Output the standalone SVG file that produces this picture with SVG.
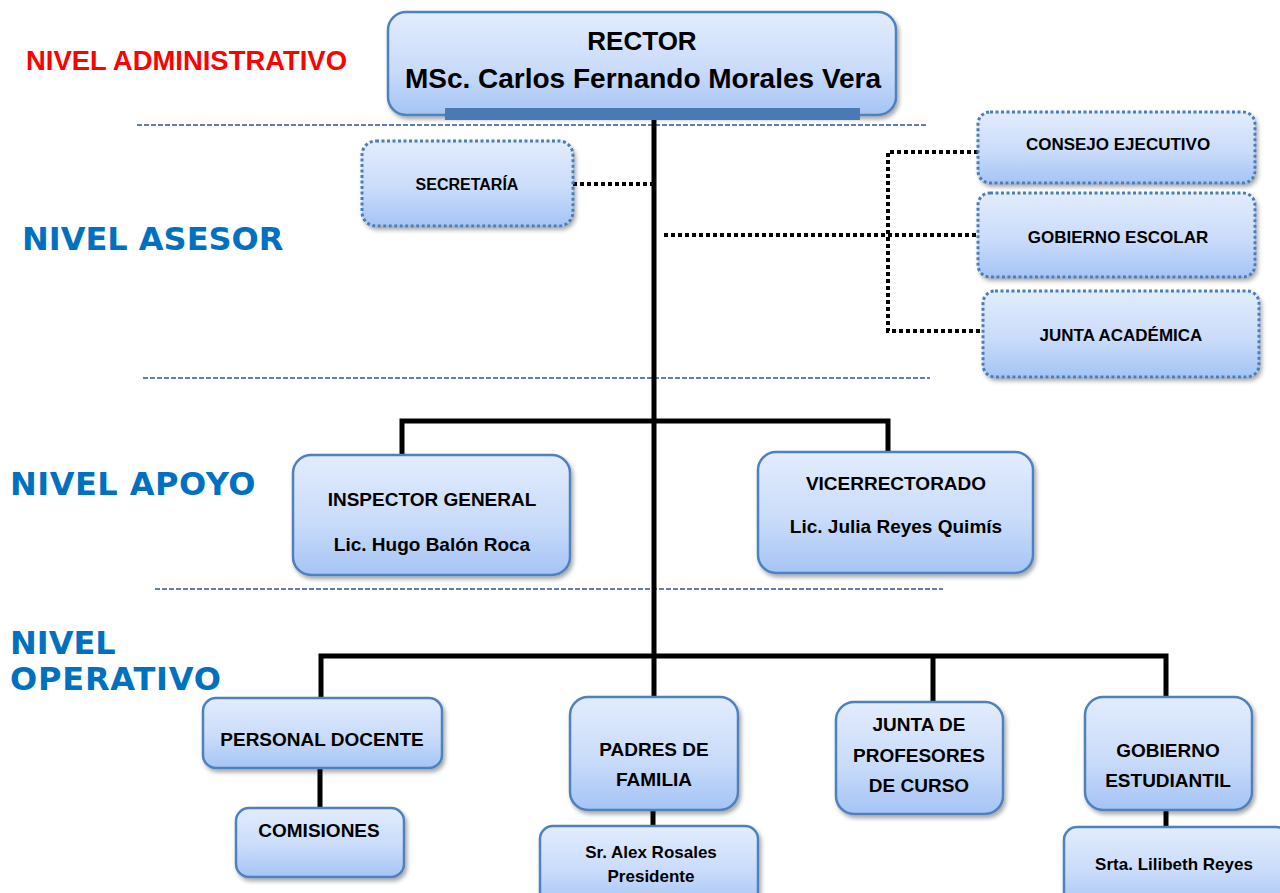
<svg xmlns="http://www.w3.org/2000/svg" width="1280" height="893" viewBox="0 0 1280 893">
<defs>
<linearGradient id="g" x1="0" y1="0" x2="0" y2="1">
<stop offset="0" stop-color="#e2ecfd"/>
<stop offset="0.55" stop-color="#cadcfa"/>
<stop offset="1" stop-color="#a5c4f5"/>
</linearGradient>
<filter id="sh" x="-10%" y="-10%" width="125%" height="135%">
<feDropShadow dx="2" dy="3" stdDeviation="2" flood-color="#000" flood-opacity="0.35"/>
</filter>
<style>
.box{fill:url(#g);stroke:#4f81bd;stroke-width:2.5;filter:url(#sh)}
.dbox{fill:url(#g);stroke:#4a7ebb;stroke-width:3;stroke-dasharray:3 2.5;filter:url(#sh)}
.t{font-family:"Liberation Sans",Arial,sans-serif;font-weight:bold;fill:#000;text-anchor:middle}
.lvl{font-family:"DejaVu Sans",Verdana,sans-serif;font-weight:bold;fill:#0070c0;font-size:32px}
.sep{stroke:#2f5597;stroke-width:1.5;stroke-dasharray:5 2;fill:none}
.solid{stroke:#000;stroke-width:5;fill:none}
.dot{stroke:#000;stroke-width:4;stroke-dasharray:4 3;fill:none}
</style>
</defs>
<rect width="1280" height="893" fill="#fff"/>

<g id="levels">
<text x="26" y="70" font-family="Liberation Sans,Arial,sans-serif" font-weight="bold" font-size="27" fill="#ff0000" textLength="321" lengthAdjust="spacingAndGlyphs">NIVEL ADMINISTRATIVO</text>
<text class="lvl" x="22" y="250">NIVEL ASESOR</text>
<text class="lvl" x="10" y="495" letter-spacing="0.5">NIVEL APOYO</text>
<text class="lvl" x="10" y="654">NIVEL</text>
<text class="lvl" x="10" y="690" letter-spacing="0.8">OPERATIVO</text>
</g>

<g id="separators">
<line class="sep" x1="137" y1="125" x2="927" y2="125"/>
<line class="sep" x1="143" y1="378" x2="930" y2="378"/>
<line class="sep" x1="155" y1="589" x2="943" y2="589"/>
</g>

<g id="connectors">
<line class="solid" x1="654" y1="118" x2="654" y2="698"/>
<polyline class="solid" points="402,455 402,421 888,421 888,452"/>
<polyline class="solid" points="321,698 321,656 1166,656 1166,697"/>
<line class="solid" x1="933" y1="656" x2="933" y2="702"/>
<line class="solid" x1="320" y1="768" x2="320" y2="808"/>
<line class="solid" x1="653" y1="810" x2="653" y2="826"/>
<line class="solid" x1="1166" y1="810" x2="1166" y2="827"/>
<line class="dot" x1="573" y1="184" x2="652" y2="184"/>
<line class="dot" x1="664" y1="235" x2="978" y2="235"/>
<polyline class="dot" points="978,152 888,152 888,331 983,331"/>
</g>

<g id="rector">
<rect class="box" x="388" y="12" width="508" height="103" rx="18"/>
<rect x="445" y="108" width="415" height="12" fill="#4a7ab5"/>
<text class="t" x="642" y="50" font-size="26">RECTOR</text>
<text class="t" x="643" y="88" font-size="28">MSc. Carlos Fernando Morales Vera</text>
</g>

<g id="secretaria">
<rect class="dbox" x="362" y="141" width="211" height="85" rx="14"/>
<text class="t" x="467" y="190" font-size="16">SECRETARÍA</text>
</g>

<g id="consejo">
<rect class="dbox" x="978" y="112" width="277" height="71" rx="12"/>
<text class="t" x="1118" y="150" font-size="17">CONSEJO EJECUTIVO</text>
</g>

<g id="gobierno-escolar">
<rect class="dbox" x="978" y="193" width="277" height="84" rx="12"/>
<text class="t" x="1118" y="243" font-size="17">GOBIERNO ESCOLAR</text>
</g>

<g id="junta-academica">
<rect class="dbox" x="983" y="291" width="276" height="86" rx="12"/>
<text class="t" x="1121" y="341" font-size="17">JUNTA ACADÉMICA</text>
</g>

<g id="inspector">
<rect class="box" x="293" y="455" width="277" height="120" rx="18"/>
<text class="t" x="432" y="506" font-size="19">INSPECTOR GENERAL</text>
<text class="t" x="432" y="551" font-size="19">Lic. Hugo Balón Roca</text>
</g>

<g id="vicerrectorado">
<rect class="box" x="758" y="452" width="275" height="121" rx="18"/>
<text class="t" x="896" y="490" font-size="19">VICERRECTORADO</text>
<text class="t" x="896" y="533" font-size="19">Lic. Julia Reyes Quimís</text>
</g>

<g id="personal-docente">
<rect class="box" x="203" y="698" width="239" height="70" rx="13"/>
<text class="t" x="322" y="746" font-size="19">PERSONAL DOCENTE</text>
</g>

<g id="comisiones">
<rect class="box" x="236" y="808" width="168" height="69" rx="13"/>
<text class="t" x="319" y="837" font-size="19">COMISIONES</text>
</g>

<g id="padres">
<rect class="box" x="570" y="697" width="168" height="113" rx="18"/>
<text class="t" x="654" y="756" font-size="19">PADRES DE</text>
<text class="t" x="654" y="786" font-size="19">FAMILIA</text>
</g>

<g id="presidente">
<rect class="box" x="540" y="826" width="218" height="80" rx="13"/>
<text class="t" x="651" y="858" font-size="17">Sr. Alex Rosales</text>
<text class="t" x="651" y="882" font-size="17">Presidente</text>
</g>

<g id="junta-profesores">
<rect class="box" x="836" y="702" width="167" height="112" rx="18"/>
<text class="t" x="919" y="731" font-size="19">JUNTA DE</text>
<text class="t" x="919" y="762" font-size="19">PROFESORES</text>
<text class="t" x="919" y="792" font-size="19">DE CURSO</text>
</g>

<g id="gobierno-estudiantil">
<rect class="box" x="1085" y="697" width="167" height="113" rx="18"/>
<text class="t" x="1168" y="757" font-size="19">GOBIERNO</text>
<text class="t" x="1168" y="787" font-size="19">ESTUDIANTIL</text>
</g>

<g id="lilibeth">
<rect class="box" x="1064" y="827" width="225" height="80" rx="13"/>
<text class="t" x="1174" y="870" font-size="17">Srta. Lilibeth Reyes</text>
</g>
</svg>
